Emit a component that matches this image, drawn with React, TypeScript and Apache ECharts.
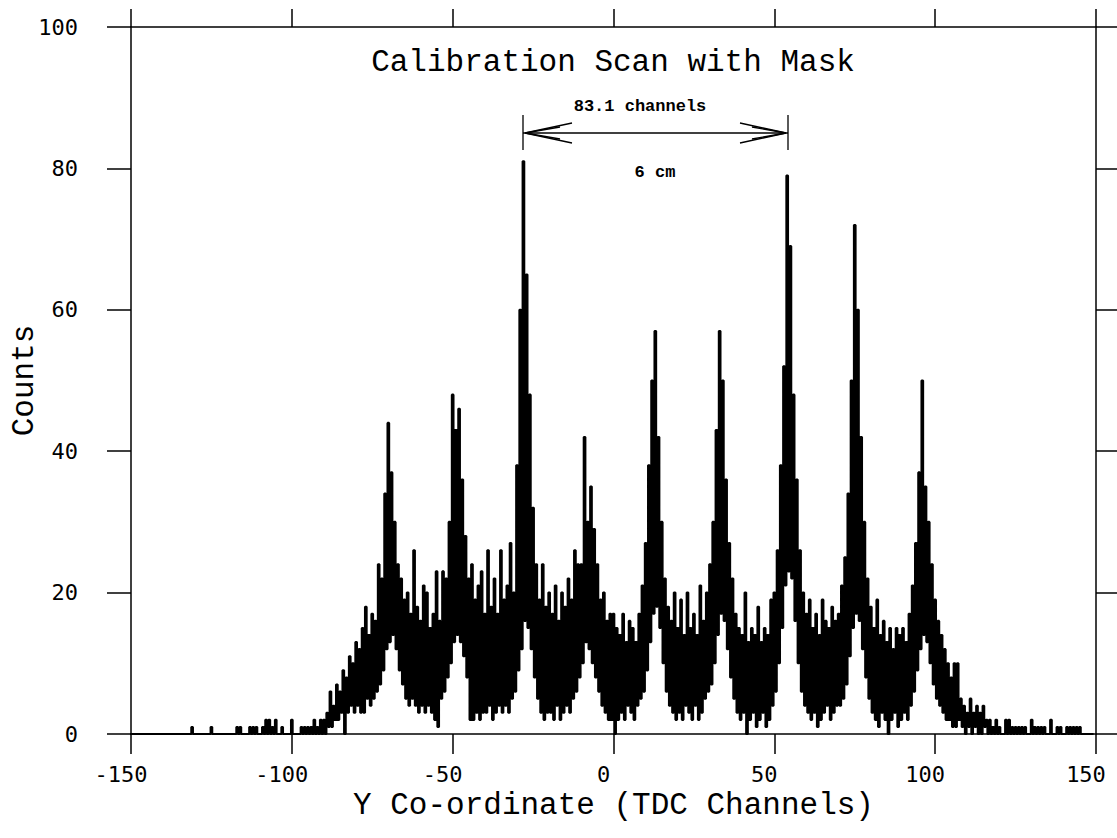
import React, { useEffect, useRef } from "react";
import * as echarts from "echarts";

// Histogram: for each TDC channel (starting at -150)
// the upper and lower envelope of the densely binned counts.
const firstChannel = -150;

const countsHigh: number[] = [
  0, 0, 0, 0, 0, 0, 0, 0, 0, 0, // -150..-141
  0, 0, 0, 0, 0, 0, 0, 0, 0, 1, // -140..-131
  0, 0, 0, 0, 0, 1, 0, 0, 0, 0, // -130..-121
  0, 0, 0, 1, 1, 0, 0, 1, 1, 1, // -120..-111
  0, 1, 2, 2, 1, 2, 0, 1, 0, 0, // -110..-101
  2, 0, 0, 1, 1, 1, 1, 2, 1, 2, // -100..-91
  2, 3, 6, 4, 7, 6, 9, 8, 11, 10, // -90..-81
  13, 12, 15, 18, 14, 17, 16, 24, 22, 34, // -80..-71
  44, 37, 30, 24, 22, 19, 20, 17, 26, 18, // -70..-61
  16, 21, 20, 15, 17, 23, 16, 23, 22, 30, // -60..-51
  48, 43, 46, 36, 28, 22, 24, 19, 21, 23, // -50..-41
  17, 26, 18, 22, 17, 26, 19, 21, 27, 20, // -40..-31
  38, 60, 81, 65, 48, 32, 24, 19, 24, 18, // -30..-21
  20, 17, 21, 16, 20, 18, 22, 19, 26, 24, // -20..-11
  24, 42, 30, 35, 29, 24, 19, 20, 16, 17, // -10..-1
  17, 15, 14, 17, 13, 16, 15, 13, 17, 21, // 0..9
  27, 38, 50, 57, 42, 30, 22, 18, 16, 20, // 10..19
  15, 19, 14, 20, 15, 17, 14, 21, 16, 20, // 20..29
  24, 30, 43, 57, 50, 36, 27, 22, 17, 15, // 30..39
  14, 20, 13, 15, 14, 18, 13, 15, 14, 19, // 40..49
  20, 26, 38, 52, 79, 69, 48, 36, 26, 20, // 50..59
  17, 19, 15, 17, 14, 19, 16, 15, 18, 16, // 60..69
  17, 21, 25, 34, 50, 72, 60, 42, 30, 22, // 70..79
  18, 15, 19, 14, 16, 13, 15, 12, 15, 14, // 80..89
  15, 13, 17, 21, 27, 37, 50, 35, 30, 24, // 90..99
  19, 16, 14, 12, 10, 8, 10, 10, 5, 4, // 100..109
  3, 5, 3, 4, 3, 4, 2, 2, 1, 2, // 110..119
  1, 0, 2, 2, 1, 1, 1, 1, 1, 0, // 120..129
  2, 1, 1, 1, 1, 0, 2, 0, 1, 1, // 130..139
  0, 1, 1, 1, 1, 1, 0, 0, 0, 0, // 140..149
];

const countsLow: number[] = [
  0, 0, 0, 0, 0, 0, 0, 0, 0, 0, // -150..-141
  0, 0, 0, 0, 0, 0, 0, 0, 0, 0, // -140..-131
  0, 0, 0, 0, 0, 0, 0, 0, 0, 0, // -130..-121
  0, 0, 0, 0, 0, 0, 0, 0, 0, 0, // -120..-111
  0, 0, 0, 0, 0, 0, 0, 0, 0, 0, // -110..-101
  0, 0, 0, 0, 0, 0, 0, 0, 0, 0, // -100..-91
  0, 1, 1, 2, 2, 3, 0, 3, 4, 3, // -90..-81
  4, 3, 3, 5, 4, 5, 6, 7, 9, 12, // -80..-71
  13, 14, 12, 9, 7, 5, 4, 5, 4, 3, // -70..-61
  4, 3, 4, 3, 2, 1, 5, 6, 8, 10, // -60..-51
  13, 14, 13, 11, 8, 2, 2, 3, 2, 3, // -50..-41
  3, 4, 2, 3, 4, 3, 4, 3, 5, 6, // -40..-31
  9, 12, 16, 15, 12, 8, 5, 3, 2, 3, // -30..-21
  3, 2, 4, 2, 3, 4, 3, 5, 6, 8, // -20..-11
  10, 13, 12, 10, 8, 6, 4, 3, 2, 2, // -10..-1
  0, 2, 3, 2, 4, 3, 2, 4, 5, 6, // 0..9
  9, 13, 17, 18, 15, 10, 6, 4, 3, 2, // 10..19
  3, 2, 4, 3, 2, 4, 2, 3, 5, 6, // 20..29
  7, 10, 14, 17, 16, 12, 8, 5, 3, 2, // 30..39
  3, 0, 2, 3, 1, 2, 3, 1, 2, 4, // 40..49
  6, 10, 15, 21, 23, 22, 16, 10, 6, 4, // 50..59
  3, 2, 3, 1, 2, 3, 4, 2, 3, 4, // 60..69
  4, 5, 7, 11, 15, 17, 16, 12, 8, 5, // 70..79
  3, 2, 1, 3, 2, 0, 2, 3, 1, 2, // 80..89
  3, 2, 4, 6, 9, 12, 14, 13, 10, 7, // 90..99
  5, 4, 3, 2, 2, 1, 1, 2, 1, 0, // 100..109
  1, 0, 1, 0, 0, 1, 0, 0, 0, 0, // 110..119
  0, 0, 0, 0, 0, 0, 0, 0, 0, 0, // 120..129
  0, 0, 0, 0, 0, 0, 0, 0, 0, 0, // 130..139
  0, 0, 0, 0, 0, 0, 0, 0, 0, 0, // 140..149
];

const xRange = [-150, 150];
const xStep = 50;
const yRange = [0, 100];
const yStep = 20;

const titleText = "Calibration Scan with Mask";
const xTitle = "Y Co-ordinate (TDC Channels)";
const yTitle = "Counts";
const spanLabel = "83.1 channels";
const distLabel = "6 cm";

const MONO = "'Liberation Mono', 'DejaVu Sans Mono', monospace";
const TICKFONT = "'DejaVu Sans Mono', monospace";

export default function App() {
  const ref = useRef<HTMLDivElement>(null);

  useEffect(() => {
    if (!ref.current) return;
    const chart = echarts.init(ref.current, null, { renderer: "svg" });

    const data: number[][] = [];
    countsHigh.forEach((h, i) => {
      const c = firstChannel + i;
      data.push([c - 0.25, h]);
      data.push([c + 0.25, countsLow[i]]);
    });

    const axisLine = { show: true, onZero: false, lineStyle: { color: "#000", width: 1.5 } };
    const tickStyle = { color: "#000", width: 1.5 };
    const ink = { stroke: "#000", lineWidth: 1.3, fill: "none" };

    chart.setOption({
      animation: false,
      backgroundColor: "#fff",
      title: {
        text: titleText,
        left: 613,
        top: 62,
        padding: 0,
        textAlign: "center",
        textVerticalAlign: "middle",
        textStyle: { fontFamily: MONO, fontSize: 31, fontWeight: "normal", color: "#000" },
      },
      grid: {
        left: 131,
        right: 21,
        top: 27,
        bottom: 104,
        containLabel: false,
        outerBoundsMode: "none",
      },
      xAxis: [
        {
          type: "value",
          position: "bottom",
          min: xRange[0],
          max: xRange[1],
          interval: xStep,
          axisLine,
          axisTick: { show: true, inside: false, length: 20, lineStyle: tickStyle },
          axisLabel: {
            show: true,
            margin: 29,
            color: "#000",
            fontFamily: TICKFONT,
            fontSize: 22,
            padding: [0, 20, 0, 0],
          },
          splitLine: { show: false },
          name: xTitle,
          nameLocation: "middle",
          nameGap: 56,
          nameMoveOverlap: false,
          nameTextStyle: { fontFamily: MONO, fontSize: 31, color: "#000" },
        },
        {
          type: "value",
          position: "top",
          min: xRange[0],
          max: xRange[1],
          interval: xStep,
          axisLine,
          axisTick: { show: true, inside: false, length: 18, lineStyle: tickStyle },
          axisLabel: { show: false },
          splitLine: { show: false },
        },
      ],
      yAxis: [
        {
          type: "value",
          position: "left",
          min: yRange[0],
          max: yRange[1],
          interval: yStep,
          axisLine,
          axisTick: { show: true, inside: false, length: 24, lineStyle: tickStyle },
          axisLabel: {
            show: true,
            margin: 53,
            color: "#000",
            fontFamily: TICKFONT,
            fontSize: 22,
          },
          splitLine: { show: false },
          name: yTitle,
          nameLocation: "middle",
          nameGap: 91,
          nameMoveOverlap: false,
          nameTextStyle: { fontFamily: MONO, fontSize: 31, color: "#000" },
        },
        {
          type: "value",
          position: "right",
          min: yRange[0],
          max: yRange[1],
          interval: yStep,
          axisLine,
          axisTick: { show: true, inside: false, length: 21, lineStyle: tickStyle },
          axisLabel: { show: false },
          splitLine: { show: false },
        },
      ],
      series: [
        {
          type: "line",
          xAxisIndex: 0,
          yAxisIndex: 0,
          data,
          step: "end",
          showSymbol: false,
          symbol: "none",
          silent: true,
          lineStyle: { color: "#000", width: 2.1 },
        },
      ],
      graphic: [
        { type: "line", shape: { x1: 523, y1: 115, x2: 523, y2: 150 }, style: ink },
        { type: "line", shape: { x1: 788, y1: 115, x2: 788, y2: 150 }, style: ink },
        { type: "line", shape: { x1: 523, y1: 133, x2: 788, y2: 133 }, style: ink },
        { type: "polyline", shape: { points: [[572, 123], [525, 133], [572, 143]] }, style: ink },
        { type: "polyline", shape: { points: [[560, 127], [525, 133], [560, 139]] }, style: ink },
        { type: "polyline", shape: { points: [[740, 123], [786, 133], [740, 143]] }, style: ink },
        { type: "polyline", shape: { points: [[752, 127], [786, 133], [752, 139]] }, style: ink },
        {
          type: "text",
          x: 640,
          y: 106,
          style: {
            text: spanLabel,
            fill: "#000",
            font: "bold 17px 'Liberation Mono', monospace",
            textAlign: "center",
            textVerticalAlign: "middle",
          },
        },
        {
          type: "text",
          x: 655,
          y: 172,
          style: {
            text: distLabel,
            fill: "#000",
            font: "bold 17px 'Liberation Mono', monospace",
            textAlign: "center",
            textVerticalAlign: "middle",
          },
        },
      ],
    });

    return () => chart.dispose();
  }, []);

  return (
    <div
      ref={ref}
      style={{ position: "fixed", left: 0, top: 0, width: 1117, height: 838, background: "#fff" }}
    />
  );
}
